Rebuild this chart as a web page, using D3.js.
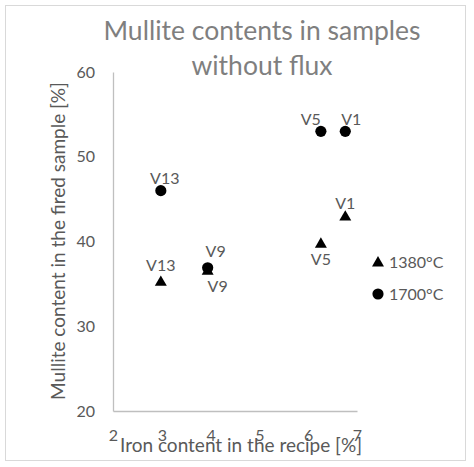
<!DOCTYPE html>
<html>
<head>
<meta charset="utf-8">
<script src="https://cdn.jsdelivr.net/npm/d3@7/dist/d3.min.js"></script>
<style>
  html, body { margin: 0; padding: 0; background: #fff; }
  svg { display: block; font-family: Lato, "Open Sans", sans-serif; }
</style>
</head>
<body>
<svg id="chart" width="474" height="467"></svg>
<script>
// ---- data ----
const titleLines = ["Mullite contents in samples", "without flux"];
const xAxisTitle = "Iron content in the recipe [%]";
const yAxisTitle = "Mullite content in the fired sample [%]";
const xTicks = [2, 3, 4, 5, 6, 7];
const yTicks = [20, 30, 40, 50, 60];
const sampleNames = ["V1", "V5", "V9", "V13"];
const ironContent = [6.76, 6.26, 3.94, 2.98];
const mullite1380 = [43.0, 39.8, 36.6, 35.3];
const mullite1700 = [53.0, 53.0, 36.9, 46.0];
const seriesNames = ["1380°C", "1700°C"];

// ---- layout ----
const svg = d3.select("#chart");
const plot = { left: 113, right: 357, top: 72, bottom: 411 };
const x = d3.scaleLinear().domain([2, 7]).range([plot.left, plot.right]);
const y = d3.scaleLinear().domain([20, 60]).range([plot.bottom, plot.top]);
const gray = "#595959";

// chart border
svg.append("rect").attr("x", 5.5).attr("y", 5.5).attr("width", 460).attr("height", 455)
  .attr("fill", "#fff").attr("stroke", "#d9d9d9").attr("stroke-width", 1);

// title
svg.append("text").attr("x", 262).attr("y", 40).attr("text-anchor", "middle")
  .attr("font-size", 26.5).attr("fill", "#7f7f7f")
  .selectAll("tspan").data(titleLines).join("tspan")
  .attr("x", 262).attr("dy", (d, i) => i === 0 ? 0 : 35).text(d => d);

// axes
const xAxis = d3.axisBottom(x).tickValues(xTicks).tickSize(0).tickPadding(0).tickFormat(d3.format("d"));
const gx = svg.append("g").attr("transform", `translate(0,${plot.bottom})`).call(xAxis);
gx.select(".domain").attr("stroke", "#bfbfbf").attr("stroke-width", 1.3);
gx.selectAll("text").attr("font-size", 16).attr("fill", gray).attr("font-family", "Lato")
  .attr("y", 0).attr("dy", "30px");

const yAxis = d3.axisLeft(y).tickValues(yTicks).tickSize(0).tickPadding(18).tickFormat(d3.format("d"));
const gy = svg.append("g").attr("transform", `translate(${plot.left},0)`).call(yAxis);
gy.select(".domain").attr("stroke", "#bfbfbf").attr("stroke-width", 1.3);
gy.selectAll("text").attr("font-size", 16).attr("fill", gray).attr("font-family", "Lato");

// axis titles
svg.append("text").attr("x", 241).attr("y", 452).attr("text-anchor", "middle")
  .attr("font-size", 19).attr("fill", gray).text(xAxisTitle);
svg.append("text").attr("transform", "translate(65,241) rotate(-90)").attr("text-anchor", "middle")
  .attr("font-size", 19).attr("fill", gray).text(yAxisTitle);

// points
const tri = d3.symbol().type(d3.symbolTriangle).size(62);
const circ = d3.symbol().type(d3.symbolCircle).size(98);

const pts1380 = sampleNames.map((n, i) => ({ name: n, x: ironContent[i], y: mullite1380[i] }));
const pts1700 = sampleNames.map((n, i) => ({ name: n, x: ironContent[i], y: mullite1700[i] }));

svg.append("g").selectAll("path").data(pts1380).join("path")
  .attr("d", tri).attr("fill", "#000")
  .attr("transform", d => `translate(${x(d.x)},${y(d.y) + 1})`);
svg.append("g").selectAll("path").data(pts1700).join("path")
  .attr("d", circ).attr("fill", "#000")
  .attr("transform", d => `translate(${x(d.x)},${y(d.y)})`);

// data labels: offsets [dx, dy, anchor]
const place1380 = { V1: [0, -7, "middle"], V5: [0, 22, "middle"], V9: [10, 22, "middle"], V13: [0, -10, "middle"] };
const place1700 = { V1: [-4, -6, "start"], V5: [0, -6, "end"], V9: [8, -11, "middle"], V13: [4, -7, "middle"] };

function labels(data, place) {
  svg.append("g").selectAll("text").data(data).join("text")
    .attr("x", d => x(d.x) + place[d.name][0])
    .attr("y", d => y(d.y) + place[d.name][1])
    .attr("text-anchor", d => place[d.name][2])
    .attr("font-size", 16).attr("fill", gray).text(d => d.name);
}
labels(pts1380, place1380);
labels(pts1700, place1700);

// legend
const legend = svg.append("g");
const legendRows = [{ name: seriesNames[0], sym: tri, cy: 262 }, { name: seriesNames[1], sym: circ, cy: 294 }];
legendRows.forEach(r => {
  legend.append("path").attr("d", r.sym).attr("fill", "#000").attr("transform", `translate(378,${r.cy + (r.sym === tri ? 1 : 0)})`);
  legend.append("text").attr("x", 389).attr("y", r.cy + 5.5).attr("font-size", 16).attr("fill", gray).text(r.name);
});
</script>
</body>
</html>
